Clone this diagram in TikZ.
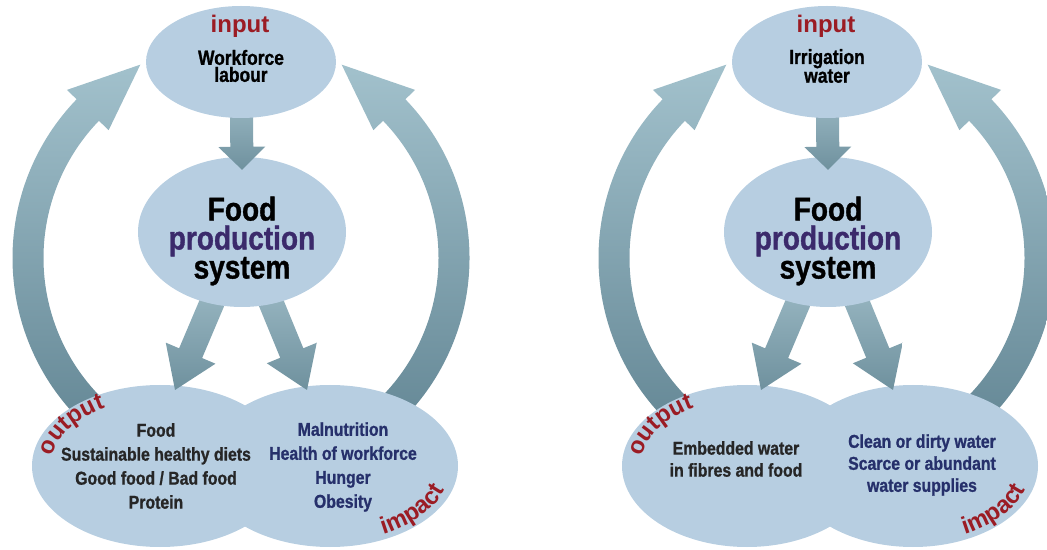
\documentclass[tikz,border=0pt]{standalone}
\usepackage{fontspec}
\setmainfont{Liberation Sans}
\newfontfamily\condfont{Liberation Sans}[FakeStretch=0.85, BoldFeatures={FakeBold=1}]
\usetikzlibrary{shapes.geometric,calc,decorations.text}
\definecolor{ellfill}{HTML}{B7CEE1}
\definecolor{arcTop}{HTML}{A2C1CC}
\definecolor{arcBot}{HTML}{648795}
\definecolor{arrTop}{HTML}{B0CCD6}
\definecolor{arrBot}{HTML}{6F919E}
\definecolor{lblred}{HTML}{9B1C24}
\definecolor{prodpurple}{HTML}{3B2A6B}
\definecolor{outtext}{HTML}{262626}
\definecolor{imptext}{HTML}{26306B}
\pgfdeclarelayer{l1}
\pgfdeclarelayer{l2}
\pgfdeclarelayer{l3}
\pgfdeclarelayer{l4}
\pgfdeclarelayer{l5}
\pgfsetlayers{l1,l2,l3,l4,l5,main}
\newcommand\lblfont{\fontsize{24}{24}\selectfont\bfseries}
\tikzset{
  blob/.style={ellipse, fill=ellfill, draw=none, inner sep=0pt},
  arcshade/.style={top color=arcTop, bottom color=arcBot, draw=none},
  arrshade/.style={top color=arrTop, bottom color=arrBot, draw=none},
  lbl/.style={font=\lblfont, text=lblred},
  toptext/.style={font=\condfont\bfseries\fontsize{20.5}{17}\selectfont, align=center, text=black},
  midtext/.style={font=\condfont\bfseries\fontsize{33}{29}\selectfont, align=center, text=black},
  bottext/.style={font=\condfont\bfseries\fontsize{18.6}{24}\selectfont, align=center},
  bottextb/.style={font=\condfont\bfseries\fontsize{18.6}{22}\selectfont, align=center},
}
% #1 style, #2 start, #3 tip, #4 shaft half width, #5 head half width, #6 head length
\newcommand\fatarr[6]{%
  \coordinate (fahb) at ($(#3)!#6!(#2)$);
  \path[#1] ($(#2)!#4!90:(#3)$) -- ($(fahb)!#4!90:(#3)$) -- ($(fahb)!#5!90:(#3)$)
    -- (#3) -- ($(fahb)!#5!-90:(#3)$) -- ($(fahb)!#4!-90:(#3)$) -- ($(#2)!#4!-90:(#3)$) -- cycle;
}
% #1 prefix, #2 shift, #3 bottom-left x, #4 bottom-right x, #5 bottom rx
\newcommand\cyclediagram[5]{%
  \pgfmathsetmacro\orx{#5-19}%
  \pgfmathsetmacro\irx{#5-7}%
  \begin{pgfonlayer}{l2}
    \node[blob, minimum width={2*#5pt}, minimum height=162pt] (#1bl) at (#3,83) {};
    \node[blob, minimum width={2*#5pt}, minimum height=162pt] (#1br) at (#4,83) {};
  \end{pgfonlayer}
  \begin{pgfonlayer}{l4}
    \node[blob, minimum width=208pt, minimum height=150pt] (#1mid) at (#2+242,317) {};
  \end{pgfonlayer}
  \node[blob, minimum width=190pt, minimum height=112pt] (#1top) at (#2+241,487) {};
  \coordinate (#1c) at (#2+241,291);
  \begin{pgfonlayer}{l1}
    \path[arcshade] ($(#1c)+(230:228.5pt)$) arc[start angle=230, end angle=136, radius=228.5pt]
      -- ($(#1c)+(136:242pt)$) -- ($(#1c)+(117.5:218pt)$) -- ($(#1c)+(136:184pt)$)
      -- ($(#1c)+(136:197.5pt)$) arc[start angle=136, end angle=230, radius=197.5pt] -- cycle;
    \path[arcshade] ($(#1c)+(-50:228.5pt)$) arc[start angle=-50, end angle=44, radius=228.5pt]
      -- ($(#1c)+(44:242pt)$) -- ($(#1c)+(62.5:218pt)$) -- ($(#1c)+(44:184pt)$)
      -- ($(#1c)+(44:197.5pt)$) arc[start angle=44, end angle=-50, radius=197.5pt] -- cycle;
  \end{pgfonlayer}
  \begin{pgfonlayer}{l3}
    \coordinate (#1tl) at ($(#1mid.center)+(-67,-158)$);
    \coordinate (#1tr) at ($(#1mid.center)+(65,-158)$);
    \fatarr{arrshade}{#1mid.center}{#1tl}{12.5pt}{27pt}{40pt}
    \fatarr{arrshade}{#1mid.center}{#1tr}{12.5pt}{27pt}{40pt}
  \end{pgfonlayer}
  \begin{pgfonlayer}{l5}
    \coordinate (#1dt) at ($(#1mid.north)+(0,-13)$);
    \fatarr{arrshade}{#1top.center}{#1dt}{11.5pt}{23.5pt}{23pt}
  \end{pgfonlayer}
  \node[lbl, anchor=base] (#1in) at (#2+240,516) {input};
  \path[decorate, decoration={text along path, text={|\lblfont|output}, text align=center, text color=lblred}]
    ($(#1bl.center)+(184:\orx pt and 67pt)$) arc[start angle=184, end angle=112, x radius=\orx pt, y radius=67pt];
  \path[decorate, decoration={text along path, text={|\lblfont|impact}, text align=center, text color=lblred}]
    ($(#1br.center)+(-80:\irx pt and 76pt)$) arc[start angle=-80, end angle=6, x radius=\irx pt, y radius=76pt];
}
\begin{document}
\begin{tikzpicture}[x=1pt,y=1pt]
\useasboundingbox (0,0) rectangle (1047,549);
\cyclediagram{L}{0}{160}{330}{128}
\cyclediagram{R}{586}{747}{913}{125}
% left diagram texts
\node[toptext] (Ltxt) at (241,483) {Workforce\\labour};
\node[midtext] (Lmtxt) at (242,308) {Food\\\textcolor{prodpurple}{production}\\system};
\node[bottext, text=outtext] (Lbltxt) at (156,83) {Food\\Sustainable healthy diets\\Good food / Bad food\\Protein};
\node[bottext, text=imptext] (Lbrtxt) at (343,82) {Malnutrition\\Health of workforce\\Hunger\\Obesity};
% right diagram texts
\node[toptext] (Rtxt) at (827,483) {Irrigation\\water};
\node[midtext] (Rmtxt) at (828,308) {Food\\\textcolor{prodpurple}{production}\\system};
\node[bottextb, text=outtext] (Rbltxt) at (736,90) {Embedded water\\in fibres and food};
\node[bottextb, text=imptext] (Rbrtxt) at (922,84) {Clean or dirty water\\Scarce or abundant\\water supplies};
\end{tikzpicture}
\end{document}
